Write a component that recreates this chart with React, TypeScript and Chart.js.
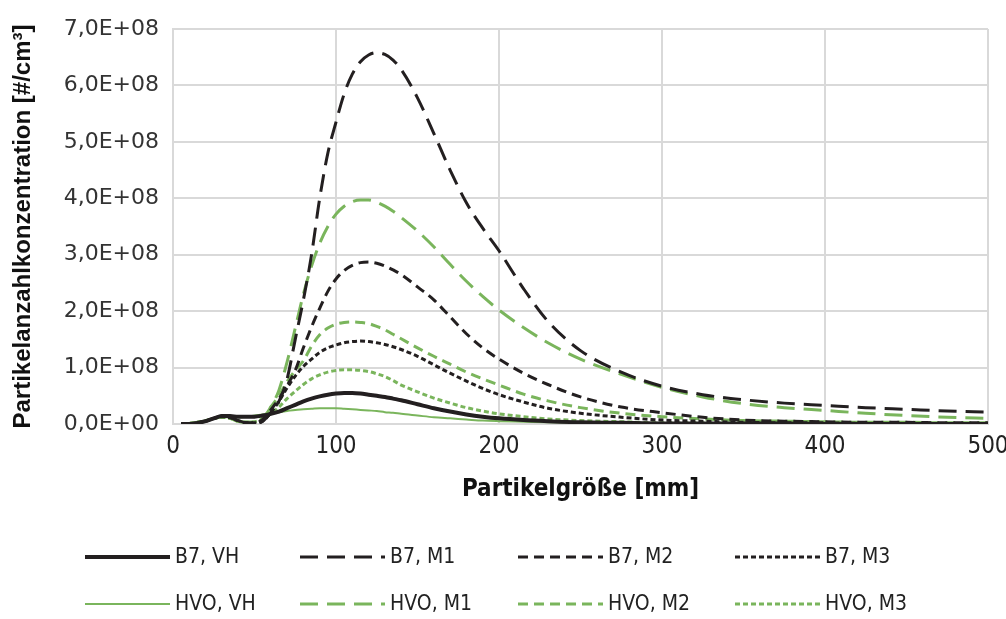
import { useEffect, useRef } from "react";
import { Chart, registerables } from "chart.js";
Chart.register(...registerables);

// Particle size (x axis)
const sizes = [5, 10, 15, 20, 25, 30, 35, 40, 45, 50, 55, 60, 65, 70, 75, 80, 85, 90, 95, 100, 105, 110, 115, 120, 125, 130, 135, 140, 150, 160, 170, 180, 190, 200, 215, 230, 250, 275, 300, 325, 350, 375, 400, 425, 450, 475, 500];

// Values in units of 1E+08 #/cm³
const b7VH = [0, 0, 0.02, 0.05, 0.1, 0.14, 0.14, 0.13, 0.13, 0.13, 0.15, 0.18, 0.22, 0.28, 0.34, 0.4, 0.45, 0.49, 0.52, 0.54, 0.55, 0.55, 0.54, 0.52, 0.5, 0.48, 0.45, 0.42, 0.35, 0.28, 0.22, 0.17, 0.13, 0.1, 0.07, 0.05, 0.03, 0.02, 0.01, 0.01, 0.01, 0.01, 0, 0, 0, 0, 0];
const b7M1 = [0, 0, 0.02, 0.05, 0.1, 0.14, 0.12, 0.06, 0.02, 0.0, 0.05, 0.2, 0.4, 0.8, 1.5, 2.2, 3.0, 4.0, 4.8, 5.35, 5.85, 6.2, 6.42, 6.54, 6.58, 6.55, 6.45, 6.28, 5.78, 5.15, 4.5, 3.92, 3.47, 3.07, 2.4, 1.82, 1.3, 0.92, 0.67, 0.52, 0.43, 0.37, 0.33, 0.29, 0.26, 0.23, 0.21];
const b7M2 = [0, 0, 0.02, 0.05, 0.1, 0.14, 0.12, 0.06, 0.02, 0.02, 0.08, 0.25, 0.45, 0.68, 0.95, 1.35, 1.72, 2.05, 2.35, 2.57, 2.72, 2.81, 2.86, 2.87, 2.85, 2.8, 2.73, 2.65, 2.43, 2.2, 1.9, 1.6, 1.35, 1.15, 0.9, 0.7, 0.48, 0.3, 0.2, 0.12, 0.07, 0.05, 0.04, 0.03, 0.03, 0.02, 0.02];
const b7M3 = [0, 0, 0.02, 0.05, 0.1, 0.13, 0.11, 0.06, 0.02, 0.02, 0.05, 0.2, 0.4, 0.64, 0.85, 1.02, 1.15, 1.27, 1.35, 1.4, 1.44, 1.46, 1.47, 1.46, 1.44, 1.41, 1.37, 1.32, 1.2, 1.05, 0.9, 0.76, 0.63, 0.52, 0.39, 0.28, 0.19, 0.12, 0.07, 0.05, 0.03, 0.02, 0.02, 0.01, 0.01, 0.01, 0.01];
const hvoVH = [0, 0.01, 0.03, 0.06, 0.1, 0.12, 0.12, 0.12, 0.13, 0.15, 0.17, 0.19, 0.21, 0.23, 0.25, 0.26, 0.27, 0.28, 0.28, 0.28, 0.27, 0.26, 0.25, 0.24, 0.23, 0.21, 0.2, 0.18, 0.15, 0.12, 0.1, 0.08, 0.06, 0.05, 0.04, 0.03, 0.02, 0.01, 0.01, 0, 0, 0, 0, 0, 0, 0, 0];
const hvoM1 = [0, 0.01, 0.03, 0.06, 0.1, 0.12, 0.1, 0.05, 0.03, 0.04, 0.1, 0.3, 0.6, 1.1, 1.7, 2.3, 2.8, 3.2, 3.5, 3.72, 3.86, 3.94, 3.97, 3.97, 3.93, 3.86, 3.77, 3.66, 3.42, 3.14, 2.83, 2.53, 2.26, 2.02, 1.71, 1.44, 1.15, 0.88, 0.65, 0.48, 0.36, 0.29, 0.24, 0.19, 0.15, 0.12, 0.1];
const hvoM2 = [0, 0.01, 0.03, 0.06, 0.1, 0.12, 0.1, 0.05, 0.03, 0.04, 0.1, 0.3, 0.5, 0.75, 0.95, 1.12, 1.38, 1.58, 1.7, 1.77, 1.8, 1.81, 1.8, 1.78, 1.73, 1.67, 1.59, 1.51, 1.35, 1.2, 1.06, 0.92, 0.8, 0.69, 0.53, 0.41, 0.29, 0.19, 0.13, 0.09, 0.06, 0.05, 0.04, 0.03, 0.03, 0.02, 0.02];
const hvoM3 = [0, 0.01, 0.03, 0.06, 0.1, 0.12, 0.1, 0.05, 0.03, 0.04, 0.08, 0.18, 0.3, 0.45, 0.58, 0.7, 0.8, 0.87, 0.92, 0.95, 0.96, 0.96, 0.95, 0.93, 0.89, 0.84, 0.77, 0.69, 0.57, 0.46, 0.37, 0.29, 0.23, 0.18, 0.13, 0.09, 0.06, 0.04, 0.02, 0.02, 0.01, 0.01, 0.01, 0.01, 0.01, 0.01, 0.01];

const seriesLabels = ["B7, VH", "B7, M1", "B7, M2", "B7, M3", "HVO, VH", "HVO, M1", "HVO, M2", "HVO, M3"];
const xTicks = [0, 100, 200, 300, 400, 500];
const yTicks = [0, 1, 2, 3, 4, 5, 6, 7];

const BLACK = "#231f20";
const GREEN = "#7ab55c";
const NARROW = '"Liberation Sans Narrow", "DejaVu Sans Condensed", sans-serif';

const legendPlugin = {
  id: "customLegend",
  afterDraw(chart: any) {
    const ctx = chart.ctx;
    const cols = [85, 300, 518, 735];
    const rows = [557, 604];
    chart.data.datasets.forEach((ds: any, i: number) => {
      const x = cols[i % 4];
      const y = rows[Math.floor(i / 4)];
      ctx.save();
      ctx.strokeStyle = ds.borderColor;
      ctx.lineWidth = ds.borderWidth;
      ctx.setLineDash(ds.borderDash || []);
      ctx.beginPath();
      ctx.moveTo(x, y);
      ctx.lineTo(x + 85, y);
      ctx.stroke();
      ctx.setLineDash([]);
      ctx.fillStyle = "#222";
      ctx.font = "21px " + NARROW;
      ctx.textBaseline = "middle";
      ctx.textAlign = "left";
      ctx.fillText(ds.label, x + 90, y + 1);
      ctx.restore();
    });
  },
};

export default function App() {
  const ref = useRef<HTMLCanvasElement>(null);
  useEffect(() => {
    document.body.style.margin = "0";
    const all = [b7VH, b7M1, b7M2, b7M3, hvoVH, hvoM1, hvoM2, hvoM3];
    const colors = [BLACK, BLACK, BLACK, BLACK, GREEN, GREEN, GREEN, GREEN];
    const widths = [4, 3, 3, 3, 2, 3, 3, 3];
    const dashes = [[], [18, 9], [10, 6], [5, 3], [], [18, 9], [10, 6], [5, 3]];
    const datasets = all.map((arr, i) => ({
      label: seriesLabels[i],
      data: sizes.map((x, j) => ({ x, y: arr[j] })),
      borderColor: colors[i],
      backgroundColor: colors[i],
      borderWidth: widths[i],
      borderDash: dashes[i],
      pointRadius: 0,
      cubicInterpolationMode: "monotone" as const,
      fill: false,
    }));
    const chart = new Chart(ref.current!, {
      type: "line",
      data: { datasets },
      plugins: [legendPlugin],
      options: {
        animation: false,
        responsive: false,
        layout: { padding: { top: 29, right: 18, bottom: 115, left: 0 } },
        plugins: { legend: { display: false }, tooltip: { enabled: false } },
        scales: {
          x: {
            type: "linear",
            min: 0,
            max: 500,
            afterBuildTicks: (axis: any) => {
              axis.ticks = xTicks.map((v) => ({ value: v }));
            },
            afterFit: (axis: any) => {
              axis.height = 80;
              axis.paddingRight = 0;
              axis.paddingLeft = 0;
            },
            grid: { color: "#d9d9d9", lineWidth: 2, drawTicks: false },
            border: { color: "#d9d9d9", width: 2 },
            ticks: {
              padding: 8,
              color: "#222",
              font: { family: NARROW, size: 24 },
            },
            title: {
              display: true,
              text: "Partikelgröße [mm]",
              color: "#111",
              padding: { top: 6, bottom: 0 },
              font: { family: NARROW, size: 24, weight: "bold" },
            },
          },
          y: {
            type: "linear",
            min: 0,
            max: 7,
            afterBuildTicks: (axis: any) => {
              axis.ticks = yTicks.map((v) => ({ value: v }));
            },
            afterFit: (axis: any) => {
              axis.width = 173;
              axis.paddingTop = 0;
              axis.paddingBottom = 0;
            },
            grid: { color: "#d9d9d9", lineWidth: 2, drawTicks: false },
            border: { color: "#d9d9d9", width: 2 },
            ticks: {
              padding: 14,
              color: "#333",
              font: { family: '"DejaVu Sans", sans-serif', size: 22 },
              callback: (v: any) => (v === 0 ? "0,0E+00" : `${v},0E+08`),
            },
            title: {
              display: true,
              text: "Partikelanzahlkonzentration [#/cm³]",
              color: "#111",
              padding: { top: 9, bottom: 0 },
              font: { family: '"Liberation Sans", Arial, sans-serif', size: 24, weight: "bold" },
            },
          },
        },
      },
    });
    return () => chart.destroy();
  }, []);
  return (
    <div style={{ width: 1006, height: 619 }}>
      <canvas ref={ref} width={1006} height={619} style={{ display: "block" }} />
    </div>
  );
}
